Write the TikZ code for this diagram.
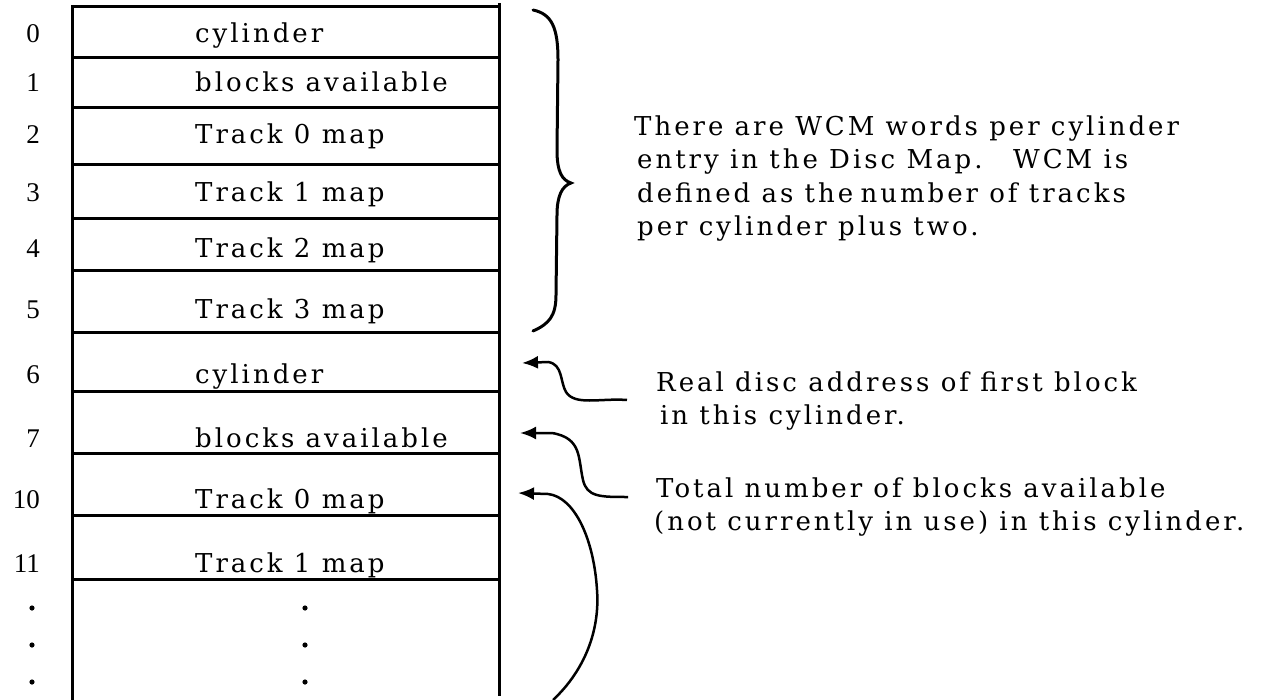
\documentclass[tikz,border=0pt]{standalone}
\usepackage{fontspec}
\newfontfamily\tw{DejaVu Serif}[LetterSpace=11.5]
\newfontfamily\nf{Liberation Serif}
\usetikzlibrary{arrows.meta}
\begin{document}
\begin{tikzpicture}[x=1pt,y=-1pt,
  rule/.style={line width=3pt},
  cell/.style={font=\tw\fontsize{26}{26}\selectfont, anchor=base west, inner sep=0pt},
  idx/.style={font=\nf\fontsize{27}{27}\selectfont, anchor=base east, inner sep=0pt},
  pointer/.style={line width=2.5pt, -{Latex[length=16pt,width=13pt]}},
  brc/.style={line width=3pt, line cap=round}]
\useasboundingbox (0,0) rectangle (1265,700);
\fill[white] (0,0) rectangle (1265,700);
% table rules
\foreach \y in {7,58,108,165,219,271,332,391,453,515,579}
  \draw[rule] (72,\y) -- (499,\y);
\draw[rule] (72,5) -- (72,700);
\draw[rule] (499,3) -- (499,696);
% rows
\foreach \n/\lab/\txt/\b in {r0/0/cylinder/43, r1/1/blocks available/92,
   r2/2/Track 0 map/144, r3/3/Track 1 map/202, r4/4/Track 2 map/258,
   r5/5/Track 3 map/318, r6/6/cylinder/383, r7/7/blocks available/447,
   r10/10/Track 0 map/508, r11/11/Track 1 map/572}
{
  \node[idx] (\n i) at (40,\b) {\lab};
  \node[cell] (\n) at (195,\b) {\txt};
}
% continuation dots
\foreach \y in {608,645,682} {
  \fill (32,\y) circle (2.6pt);
  \fill (305,\y) circle (2.6pt);
}
% brace
\draw[brc] (533,10) .. controls (552,14) and (558,28) .. (558,60)
  -- (557,150) .. controls (557,172) and (562,180) .. (571,183)
  .. controls (562,186) and (557,196) .. (557,215)
  -- (556,295) .. controls (556,316) and (549,324) .. (533,331);
% notes
\node[cell] (n1) at (634,136) {There are WCM words per cylinder};
\node[cell] (n2) at (637,169) {entry in the Disc Map.\hspace{0.6em} WCM is};
\node[cell] (n3) at (637,203) {defined as the\hspace{-0.15em} number of tracks};
\node[cell] (n4) at (637,236) {per cylinder plus two.};
\node[cell] (d1) at (656,391) {Real disc address of first block};
\node[cell] (d2) at (660,424) {in this cylinder.};
\node[cell] (t1) at (656,497) {Total number of blocks available};
\node[cell] (t2) at (654,530) {(not currently in use) in this cylinder.};
% pointers
\coordinate (s6) at (627,400);
\coordinate (e6) at (522,363);
\coordinate (s7) at (628,497);
\coordinate (e7) at (520,433);
\coordinate (s10) at (553,700);
\coordinate (e10) at (518,493);
\draw[pointer] (s6) .. controls (600,398) and (575,406) .. (566,392)
  .. controls (560,382) and (563,364) .. (548,362) -- (e6);
\draw[pointer] (s7) .. controls (600,497) and (587,497) .. (583,480)
  .. controls (578,458) and (582,438) .. (552,433) -- (e7);
\draw[pointer] (s10) .. controls (585,670) and (600,630) .. (597,590)
  .. controls (594,540) and (575,497) .. (548,494) -- (e10);
\end{tikzpicture}
\end{document}
